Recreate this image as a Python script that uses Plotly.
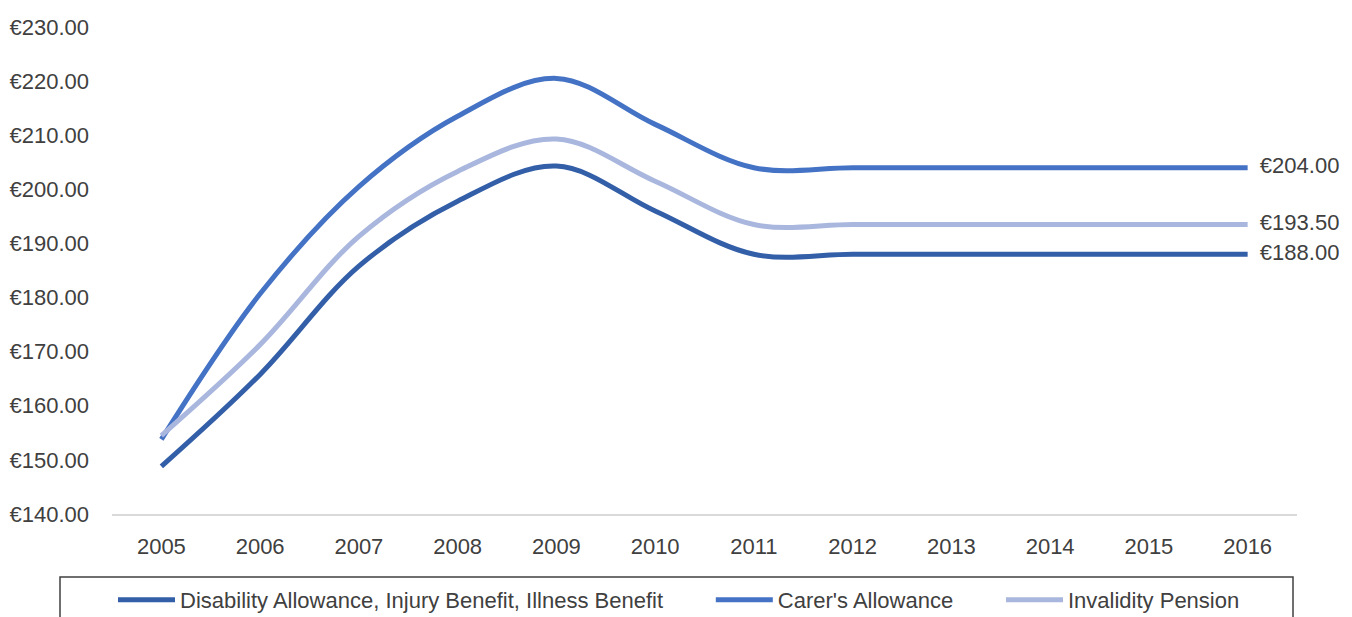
import plotly.graph_objects as go

years = ["2005", "2006", "2007", "2008", "2009", "2010", "2011", "2012", "2013", "2014", "2015", "2016"]
disability = [148.80, 165.80, 185.80, 197.80, 204.30, 196.00, 188.00, 188.00, 188.00, 188.00, 188.00, 188.00]
carers = [153.80, 180.70, 200.50, 213.50, 220.50, 212.00, 204.00, 204.00, 204.00, 204.00, 204.00, 204.00]
invalidity = [154.50, 171.30, 191.30, 203.30, 209.30, 201.50, 193.50, 193.50, 193.50, 193.50, 193.50, 193.50]
names = ["Disability Allowance, Injury Benefit, Illness Benefit", "Carer's Allowance", "Invalidity Pension"]
colors = ["#335EA8", "#4472C4", "#A9B7DE"]
tickvals = [140, 150, 160, 170, 180, 190, 200, 210, 220, 230]

FONT = "Liberation Sans"
TXT = "#404040"

W, H = 1344, 609
L, R, T, B = 104, 55, 19, 103
PW, PH = W - L - R, H - T - B

PAD = "\u00a0" * 7
legend_labels = [names[0] + PAD, names[1] + PAD, names[2]]

fig = go.Figure()
for name, lab, vals, col in zip(names, legend_labels, [disability, carers, invalidity], colors):
    labels = [""] * (len(vals) - 1) + ["  €{:.2f}".format(vals[-1])]
    fig.add_trace(go.Scatter(
        x=years, y=vals, name=lab, mode="lines+text",
        line=dict(color=col, width=5, shape="spline", smoothing=1.0),
        text=labels, textposition="middle right",
        textfont=dict(family=FONT, size=22, color=TXT),
        cliponaxis=False,
    ))

fig.update_layout(
    width=W, height=H,
    margin=dict(l=L, r=R, t=T, b=B, autoexpand=False),
    paper_bgcolor="white", plot_bgcolor="white",
    font=dict(family=FONT, size=22, color=TXT),
    xaxis=dict(type="category", showgrid=False, showline=True, linecolor="#D9D9D9",
               linewidth=1.5, ticks="", tickfont=dict(size=22, color=TXT),
               ticklabelstandoff=12,
               range=[-0.5, len(years) - 0.5], automargin=False),
    yaxis=dict(range=[140, 230], tickvals=tickvals,
               ticktext=["€{:.2f}".format(v) for v in tickvals],
               showgrid=False, zeroline=False, showline=False, ticks="",
               tickfont=dict(size=22, color=TXT), ticklabelstandoff=22, automargin=False),
    showlegend=True,
    legend=dict(orientation="h", x=(679 - 8 - L) / PW, xanchor="center",
                y=-(592 - 506) / PH, yanchor="middle",
                font=dict(size=22, color=TXT), itemwidth=57, traceorder="normal",
                bgcolor="rgba(0,0,0,0)"),
    shapes=[dict(type="rect", xref="paper", yref="paper",
                 x0=(52 - L) / PW, x1=(1285 - L) / PW,
                 y0=-0.4, y1=-(569 - 506) / PH,
                 line=dict(color="#404040", width=1.5), fillcolor="rgba(0,0,0,0)")],
)

fig.write_html("out.html")
